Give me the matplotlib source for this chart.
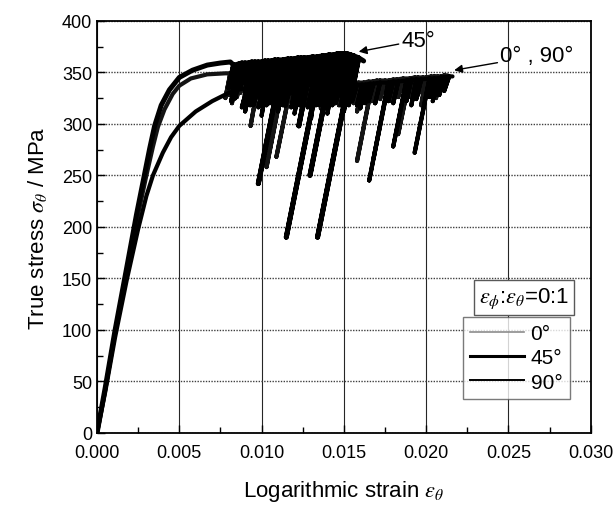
import matplotlib
matplotlib.use("Agg")
import matplotlib.pyplot as plt
from matplotlib.lines import Line2D

plt.rcParams['font.family'] = ['Liberation Sans', 'DejaVu Sans']
plt.rcParams['mathtext.fontset'] = 'stix'

# ---------------- data ----------------
# smooth (pre-serration) parts: strain, stress [MPa]
s45_x = [0, 0.0005, 0.0011, 0.0018, 0.0024, 0.0029, 0.0032, 0.0035, 0.0039, 0.0044, 0.0050, 0.0058, 0.0067, 0.0075, 0.0081]
s45_y = [0, 44, 100, 160, 212, 252, 276, 298, 318, 333, 345, 352, 357, 359, 360]
s0_x = [0, 0.0005, 0.0011, 0.0018, 0.0024, 0.0030, 0.0034, 0.0037, 0.0041, 0.0046, 0.0050, 0.0057, 0.0067, 0.0078]
s0_y = [0, 42, 98, 155, 205, 250, 278, 297, 314, 329, 337, 344, 348, 349]
s90_x = [0, 0.0005, 0.0011, 0.0018, 0.0025, 0.0030, 0.0034, 0.0040, 0.0045, 0.0050, 0.0060, 0.0070, 0.0080, 0.0088]
s90_y = [0, 40, 93, 148, 198, 230, 250, 272, 287, 298, 312, 322, 330, 334]

# serrations: (top strain, top stress, bottom strain, bottom stress)
ser45 = [
    (0.0083, 357, 0.0080, 335), (0.0086, 358, 0.00818, 322), (0.0088, 359, 0.00838, 325),
    (0.0090, 359, 0.0087, 336), (0.0092, 359, 0.00896, 340), (0.0094, 360, 0.0090, 328),
    (0.0096, 360, 0.0091, 320), (0.0098, 360, 0.0095, 334), (0.0100, 360, 0.00973, 338),
    (0.0102, 361, 0.0098, 330), (0.0104, 361, 0.00996, 326), (0.0106, 361, 0.0102, 330),
    (0.0108, 362, 0.01053, 340), (0.0110, 362, 0.0106, 330), (0.0113, 362, 0.0098, 242),
    (0.0116, 363, 0.01125, 335), (0.0118, 363, 0.0114, 330), (0.0120, 363, 0.01144, 318),
    (0.0122, 364, 0.0118, 330), (0.0124, 364, 0.0121, 340), (0.0126, 364, 0.0122, 332),
    (0.0128, 364, 0.01231, 325), (0.0131, 365, 0.01226, 298), (0.0134, 365, 0.0131, 340),
    (0.0137, 366, 0.0115, 190), (0.0139, 366, 0.0135, 335), (0.0141, 367, 0.0137, 335),
    (0.0144, 367, 0.01294, 250), (0.0146, 368, 0.0142, 335), (0.0148, 368, 0.01445, 340),
    (0.0150, 368, 0.0146, 334), (0.0152, 368, 0.0147, 328), (0.0154, 367, 0.0151, 340),
    (0.0156, 366, 0.0134, 190), (0.0159, 364, 0.01554, 335),
]
end45 = (0.0162, 361)

ser0 = [
    (0.0081, 349, 0.0078, 325), (0.0083, 349, 0.0080, 328), (0.0085, 349, 0.0082, 320),
    (0.0088, 348, 0.0085, 326), (0.0090, 348, 0.0087, 330), (0.0093, 348, 0.0090, 322),
    (0.0096, 348, 0.0093, 326), (0.0099, 348, 0.00933, 298), (0.0102, 348, 0.0099, 326),
    (0.0104, 348, 0.0101, 325), (0.0108, 347, 0.0105, 322), (0.0111, 347, 0.0108, 325),
    (0.0114, 347, 0.0103, 258), (0.0119, 346, 0.0109, 268), (0.0121, 345, 0.0118, 324),
    (0.0124, 345, 0.0121, 322), (0.0127, 344, 0.0124, 322), (0.0129, 344, 0.0126, 318),
    (0.0132, 343, 0.0129, 322), (0.0134, 343, 0.0131, 325), (0.0137, 342, 0.0134, 320),
    (0.0139, 342, 0.0136, 315), (0.0142, 341, 0.0139, 322), (0.0145, 341, 0.0142, 320),
    (0.0148, 340, 0.0145, 322), (0.0150, 340, 0.0147, 318), (0.0153, 340, 0.0150, 324),
    (0.0156, 340, 0.0153, 322), (0.0159, 340, 0.0156, 320), (0.0162, 340, 0.0158, 312),
    (0.0165, 341, 0.0162, 322), (0.01675, 341, 0.0158, 264), (0.0170, 342, 0.0167, 322),
    (0.0172, 342, 0.0169, 320), (0.0175, 342, 0.0172, 324), (0.01775, 342, 0.0168, 266),
    (0.0180, 343, 0.0177, 324), (0.0182, 343, 0.0179, 322), (0.0186, 344, 0.0183, 326),
    (0.0190, 344, 0.0183, 290), (0.0193, 345, 0.0190, 326), (0.0195, 345, 0.0192, 325),
    (0.0198, 345, 0.0195, 328), (0.0200, 345, 0.0197, 318), (0.0203, 346, 0.0200, 328),
    (0.0205, 346, 0.0202, 330), (0.0207, 346, 0.0204, 330), (0.0209, 346, 0.0206, 325),
    (0.0211, 347, 0.0208, 332),
]
end0 = (0.0213, 347)

ser90 = [
    (0.0091, 334, 0.0088, 316), (0.0093, 335, 0.0090, 312), (0.0096, 335, 0.0093, 318),
    (0.0098, 335, 0.0095, 318), (0.0101, 336, 0.0098, 316), (0.0103, 336, 0.0100, 308),
    (0.0106, 336, 0.0103, 318), (0.0108, 336, 0.0105, 320), (0.0111, 337, 0.0108, 316),
    (0.0113, 337, 0.0110, 312), (0.0116, 337, 0.0113, 318), (0.0118, 337, 0.0115, 322),
    (0.0121, 337, 0.0118, 316), (0.0123, 337, 0.0120, 310), (0.0126, 338, 0.0123, 318),
    (0.0128, 338, 0.0125, 320), (0.0131, 338, 0.0128, 316), (0.0133, 338, 0.0130, 305),
    (0.0136, 338, 0.0133, 318), (0.0138, 338, 0.0135, 318), (0.0141, 338, 0.0138, 316),
    (0.0143, 338, 0.0140, 310), (0.0146, 338, 0.0143, 318), (0.0148, 338, 0.0145, 320),
    (0.0151, 338, 0.0148, 318), (0.0153, 338, 0.0150, 312), (0.0156, 338, 0.0153, 318),
    (0.0158, 338, 0.0155, 322), (0.0161, 338, 0.0158, 318), (0.0163, 338, 0.0160, 315),
    (0.0166, 339, 0.0163, 320), (0.0168, 339, 0.0165, 322), (0.0172, 340, 0.0169, 320),
    (0.0177, 340, 0.01654, 245), (0.0180, 341, 0.0177, 322), (0.0183, 341, 0.0180, 320),
    (0.0188, 342, 0.0180, 278), (0.0191, 343, 0.0188, 322), (0.0194, 343, 0.0191, 318),
    (0.0197, 343, 0.0194, 324), (0.0202, 344, 0.0193, 272), (0.0205, 344, 0.0202, 326),
    (0.0207, 344, 0.0204, 322), (0.0209, 345, 0.0206, 328), (0.0211, 345, 0.0208, 328),
    (0.0214, 346, 0.0211, 332),
]
end90 = (0.0216, 346)

legend_labels = ['0°', '45°', '90°']
x_ticks = [0.000, 0.005, 0.010, 0.015, 0.020, 0.025, 0.030]
y_ticks = [0, 50, 100, 150, 200, 250, 300, 350, 400]


def build(sx, sy, ser, end):
    xs, ys = list(sx), list(sy)
    for xt, yt, xb, yb in ser:
        xs += [xt, xb, xt]
        ys += [yt, yb, yt]
    xs.append(end[0])
    ys.append(end[1])
    return xs, ys


fig = plt.figure(figsize=(6.16, 5.06), dpi=100)
ax = fig.add_axes([0.1575, 0.1423, 0.8015, 0.8147])

x0, y0 = build(s0_x, s0_y, ser0, end0)
x90, y90 = build(s90_x, s90_y, ser90, end90)
x45, y45 = build(s45_x, s45_y, ser45, end45)
ax.plot(x0, y0, color='0.08', lw=3.0, solid_joinstyle='round', solid_capstyle='round', zorder=3)
ax.plot(x90, y90, color='k', lw=3.0, solid_joinstyle='round', solid_capstyle='round', zorder=3)
ax.plot(x45, y45, color='k', lw=3.6, solid_joinstyle='round', solid_capstyle='round', zorder=4)

ax.set_xlim(0, 0.030)
ax.set_ylim(0, 400)
ax.set_xticks(x_ticks)
ax.set_xticklabels([f'{v:.3f}' for v in x_ticks])
ax.set_yticks(y_ticks)
ax.set_xticks([0.0025, 0.0075, 0.0125, 0.0175, 0.0225, 0.0275], minor=True)
ax.set_yticks([25, 75, 125, 175, 225, 275, 325, 375], minor=True)
ax.tick_params(which='both', direction='in', labelsize=13, top=False, right=False)
ax.tick_params(axis='x', which='major', pad=8)
ax.tick_params(which='major', length=6, width=1)
ax.tick_params(which='minor', length=4, width=1)
for sp in ax.spines.values():
    sp.set_linewidth(1.3)

ax.grid(True, axis='x', which='major', color='0.15', lw=0.8, ls='-', zorder=0)
ax.grid(True, axis='y', which='major', color='0.25', lw=1.0, ls=(0, (1, 1)), zorder=0)
ax.set_axisbelow(True)

ax.set_xlabel(r'Logarithmic strain $\varepsilon_\theta$', fontsize=16, labelpad=12)
ax.set_ylabel(r'True stress $\sigma_\theta$ / MPa', fontsize=16, labelpad=9)

arrow = dict(arrowstyle='-|>', color='k', lw=1.0, mutation_scale=12, shrinkA=0, shrinkB=0)
ax.annotate('45°', xy=(0.0159, 370), xytext=(0.0185, 381), fontsize=16,
            va='center', ha='left', arrowprops=arrow)
ax.annotate('0° , 90°', xy=(0.0217, 352), xytext=(0.0245, 366), fontsize=16,
            va='center', ha='left', arrowprops=arrow)

ax.text(0.864, 0.329, r'$\varepsilon_\phi$:$\varepsilon_\theta$=0:1', transform=ax.transAxes,
        fontsize=16, ha='center', va='center', zorder=6,
        bbox=dict(boxstyle='square,pad=0.22', fc='white', ec='0.35', lw=1.0))

handles = [Line2D([], [], color='0.55', lw=1.2),
           Line2D([], [], color='k', lw=2.2),
           Line2D([], [], color='k', lw=1.4)]
leg = ax.legend(handles, legend_labels, loc='upper left', bbox_to_anchor=(0.741, 0.2816),
                fontsize=15, frameon=True, fancybox=False, handlelength=2.6,
                handletextpad=0.3, labelspacing=0.25, borderpad=0.35, borderaxespad=0)
leg.get_frame().set_edgecolor('0.35')
leg.get_frame().set_linewidth(1.0)
leg.set_zorder(6)

fig.savefig('out.png', dpi=100)
